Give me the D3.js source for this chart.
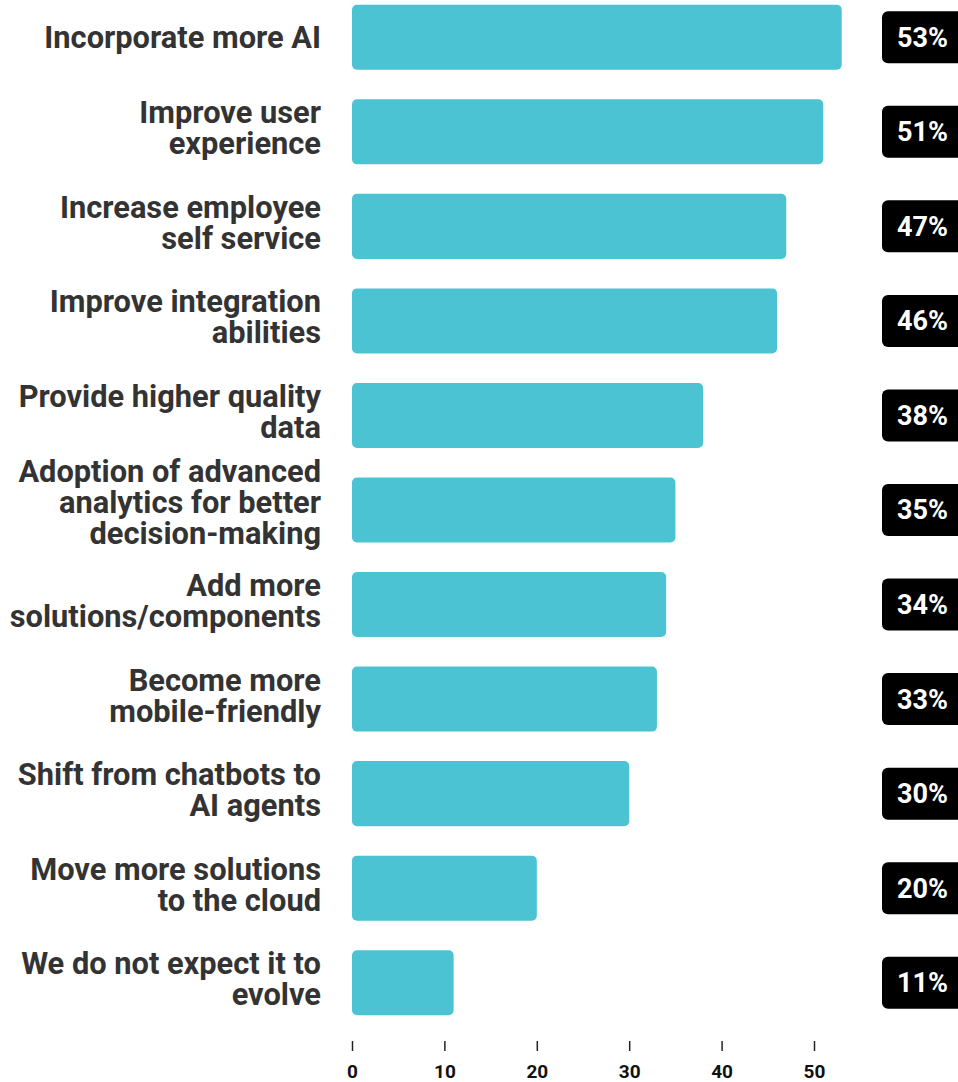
<!DOCTYPE html>
<html>
<head>
<meta charset="utf-8">
<script src="https://cdn.jsdelivr.net/npm/d3@7"></script>
<style>
  html, body { margin: 0; padding: 0; background: #ffffff; }
  svg { display: block; font-family: Roboto, "Noto Sans", sans-serif; }
</style>
</head>
<body>
<svg id="chart" width="958" height="1082"></svg>
<script>
// Survey answers: how respondents expect their platform to evolve
const categories = [
  ["Incorporate more AI"],
  ["Improve user", "experience"],
  ["Increase employee", "self service"],
  ["Improve integration", "abilities"],
  ["Provide higher quality", "data"],
  ["Adoption of advanced", "analytics for better", "decision-making"],
  ["Add more", "solutions/components"],
  ["Become more", "mobile-friendly"],
  ["Shift from chatbots to", "AI agents"],
  ["Move more solutions", "to the cloud"],
  ["We do not expect it to", "evolve"]
];
const values = [53, 51, 47, 46, 38, 35, 34, 33, 30, 20, 11];
const tickValues = [0, 10, 20, 30, 40, 50];

const svg = d3.select("#chart");

const x = d3.scaleLinear().domain([0, 50]).range([352, 814]);
const y = d3.scaleBand()
  .domain(d3.range(categories.length))
  .range([-10, 1030])
  .paddingInner(0.312)
  .paddingOuter(0.156);

const barColor = "#4bc3d3";

// Bars
svg.append("g")
  .selectAll("rect")
  .data(values)
  .join("rect")
  .attr("x", x(0))
  .attr("y", (d, i) => y(i))
  .attr("width", d => x(d) - x(0))
  .attr("height", y.bandwidth())
  .attr("rx", 5)
  .attr("fill", barColor);

// Category labels, right-aligned to the left of the bars
const lineH = 31;
const labels = svg.append("g")
  .selectAll("text")
  .data(categories)
  .join("text")
  .attr("text-anchor", "end")
  .attr("font-size", 30.8)
  .attr("font-weight", 700)
  .attr("fill", "#333333")
  .attr("transform", (d, i) => `translate(321,${y(i) + y.bandwidth() / 2})`);

labels.each(function(lines) {
  const t = d3.select(this);
  const first = -(lines.length - 1) * 19.6;
  lines.forEach((ln, k) => {
    t.append("tspan")
      .attr("x", 0)
      .attr("y", first + k * lineH)
      .attr("dy", "0.36em")
      .text(ln);
  });
});

// Value badges at the right edge
const badges = svg.append("g")
  .selectAll("g")
  .data(values)
  .join("g")
  .attr("transform", (d, i) => `translate(882,${y(i) + y.bandwidth() / 2})`);

badges.append("rect")
  .attr("x", 0)
  .attr("y", -26)
  .attr("width", 90)
  .attr("height", 52)
  .attr("rx", 6)
  .attr("fill", "#000000");

badges.append("text")
  .attr("x", 15)
  .attr("dy", "0.35em")
  .attr("font-size", 27)
  .attr("font-weight", 700)
  .attr("fill", "#ffffff")
  .text(d => d + "%");

// Bottom axis
const axis = svg.append("g")
  .attr("transform", "translate(0,1041)")
  .call(d3.axisBottom(x).tickValues(tickValues).tickSize(10).tickPadding(14).tickFormat(d3.format("d")));

axis.select(".domain").remove();
axis.selectAll(".tick line").attr("stroke", "#222").attr("stroke-width", 1.5);
axis.selectAll(".tick text")
  .attr("font-family", "Roboto, sans-serif")
  .attr("font-size", 19)
  .attr("font-weight", 700)
  .attr("fill", "#111");
</script>
</body>
</html>
